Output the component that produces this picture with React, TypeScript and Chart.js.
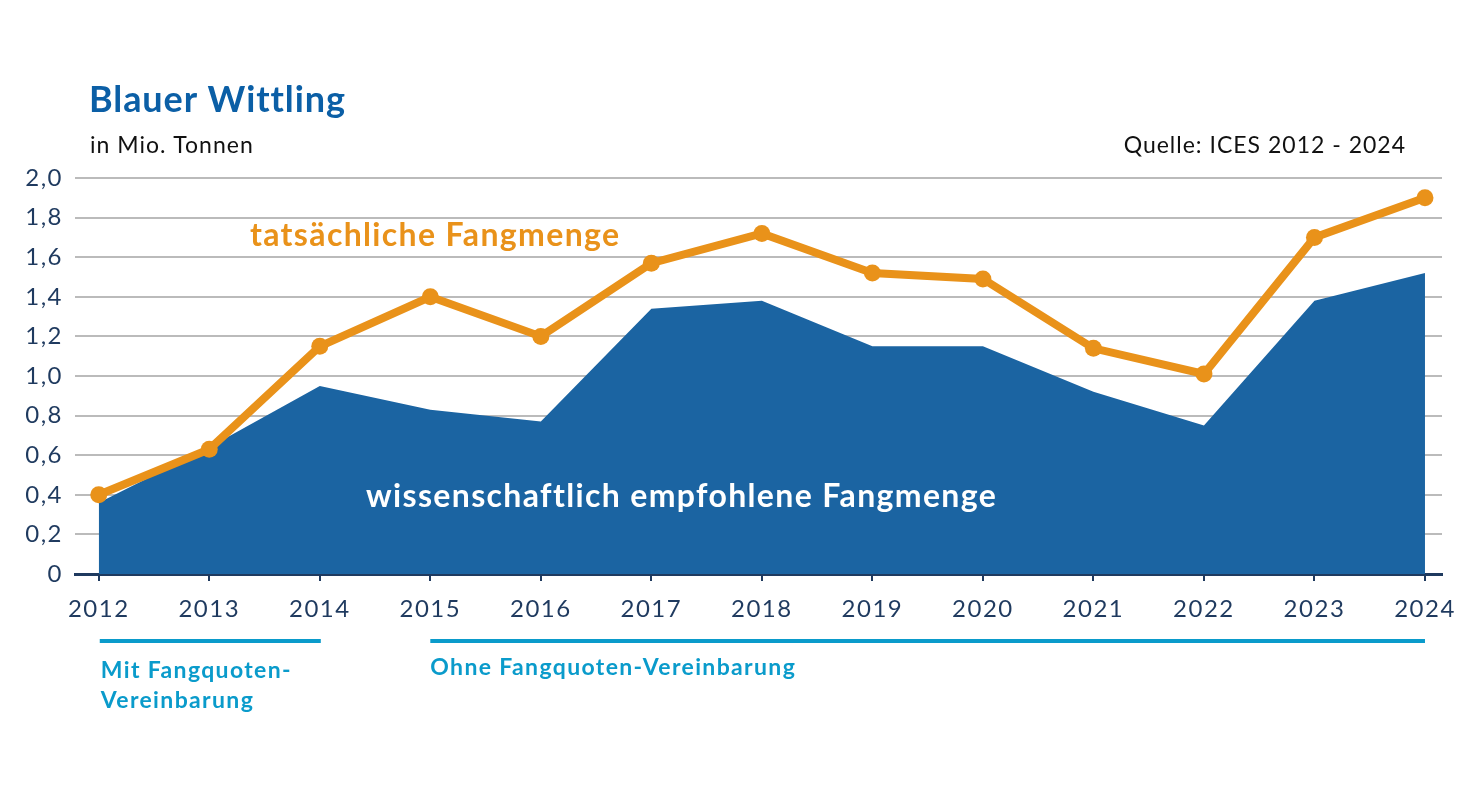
import React, { useEffect, useRef } from "react";
import { Chart, registerables } from "chart.js";

Chart.register(...registerables);

const years = [2012, 2013, 2014, 2015, 2016, 2017, 2018, 2019, 2020, 2021, 2022, 2023, 2024];
const actualCatch = [0.40, 0.63, 1.15, 1.40, 1.20, 1.57, 1.72, 1.52, 1.49, 1.14, 1.01, 1.70, 1.90];
const advisedCatch = [0.36, 0.64, 0.95, 0.83, 0.77, 1.34, 1.38, 1.15, 1.15, 0.92, 0.75, 1.38, 1.52];
const yTickValues = [0, 0.2, 0.4, 0.6, 0.8, 1.0, 1.2, 1.4, 1.6, 1.8, 2.0];
const periodWith = [2012, 2014];
const periodWithout = [2015, 2024];

const FONT = "Lato, 'Noto Sans', sans-serif";
const NAVY = "#1f3a5f";
const ORANGE = "#e9921a";
const AREA_BLUE = "#1b64a2";
const TITLE_BLUE = "#0b5fa6";
const LIGHT_BLUE = "#0a9bcb";

const textPlugin = {
  id: "texts",
  beforeDraw(chart: any) {
    chart.ctx.letterSpacing = "1.5px";
  },
  afterDraw(chart: any) {
    const ctx = chart.ctx;
    ctx.save();
    ctx.textBaseline = "alphabetic";
    ctx.textAlign = "left";
    ctx.fillStyle = TITLE_BLUE;
    ctx.letterSpacing = "0.9px";
    ctx.font = `bold 36px ${FONT}`;
    ctx.fillText("Blauer Wittling", 89, 112);
    ctx.fillStyle = "#111";
    ctx.letterSpacing = "1px";
    ctx.font = `23px ${FONT}`;
    ctx.fillText("in Mio. Tonnen", 90, 153);
    ctx.textAlign = "right";
    ctx.fillText("Quelle: ICES 2012 - 2024", 1406, 153);
    ctx.restore();
  },
  afterDatasetsDraw(chart: any) {
    const ctx = chart.ctx;
    const xs = chart.scales.x;
    ctx.save();
    ctx.textBaseline = "alphabetic";
    ctx.textAlign = "left";
    ctx.letterSpacing = "1.35px";
    ctx.font = `bold 32px ${FONT}`;
    ctx.fillStyle = ORANGE;
    ctx.fillText("tatsächliche Fangmenge", 250, 246);
    ctx.fillStyle = "#ffffff";
    ctx.fillText("wissenschaftlich empfohlene Fangmenge", 366, 507);

    ctx.strokeStyle = LIGHT_BLUE;
    ctx.lineWidth = 4;
    const y = 641;
    ctx.beginPath();
    ctx.moveTo(xs.getPixelForValue(periodWith[0]) + 1, y);
    ctx.lineTo(xs.getPixelForValue(periodWith[1]) + 1, y);
    ctx.moveTo(xs.getPixelForValue(periodWithout[0]), y);
    ctx.lineTo(xs.getPixelForValue(periodWithout[1]), y);
    ctx.stroke();
    ctx.fillStyle = LIGHT_BLUE;
    ctx.font = `bold 23px ${FONT}`;
    const x1 = xs.getPixelForValue(periodWith[0]) + 2;
    ctx.fillText("Mit Fangquoten-", x1, 678);
    ctx.fillText("Vereinbarung", x1, 708);
    ctx.fillText("Ohne Fangquoten-Vereinbarung", xs.getPixelForValue(periodWithout[0]), 675);
    ctx.restore();
  },
};

export default function App() {
  const ref = useRef<HTMLCanvasElement>(null);
  useEffect(() => {
    document.body.style.margin = "0";
    const canvas = ref.current!;
    const chart = new Chart(canvas, {
      type: "line",
      data: {
        datasets: [
          {
            label: "tatsächliche Fangmenge",
            data: years.map((yr, i) => ({ x: yr, y: actualCatch[i] })),
            borderColor: ORANGE,
            backgroundColor: ORANGE,
            borderWidth: 8,
            pointRadius: 8.5,
            pointBorderWidth: 0,
            pointBackgroundColor: ORANGE,
            fill: false,
            tension: 0,
            order: 0,
          },
          {
            label: "wissenschaftlich empfohlene Fangmenge",
            data: years.map((yr, i) => ({ x: yr, y: advisedCatch[i] })),
            borderWidth: 0,
            borderColor: AREA_BLUE,
            backgroundColor: AREA_BLUE,
            pointRadius: 0,
            fill: "origin",
            tension: 0,
            order: 1,
          },
        ],
      },
      options: {
        animation: false,
        responsive: false,
        layout: { padding: { top: 178, left: 0, right: 19, bottom: 147 } },
        plugins: { legend: { display: false }, tooltip: { enabled: false } },
        scales: {
          x: {
            type: "linear",
            min: 2011.785,
            max: 2024.154,
            afterBuildTicks: (s: any) => {
              s.ticks = years.map((v) => ({ value: v }));
            },
            afterFit: (s: any) => {
              s.height = 70;
              s.paddingLeft = 0;
              s.paddingRight = 0;
            },
            grid: {
              display: true,
              drawOnChartArea: false,
              drawTicks: true,
              tickLength: 7,
              color: NAVY,
              lineWidth: 2,
            },
            border: { display: true, color: NAVY, width: 3 },
            ticks: {
              padding: 14,
              color: NAVY,
              font: { family: FONT, size: 24 },
              maxRotation: 0,
              autoSkip: false,
              callback: (v: any) => String(v),
            },
          },
          y: {
            min: 0,
            max: 2,
            afterBuildTicks: (s: any) => {
              s.ticks = yTickValues.map((v) => ({ value: v }));
            },
            afterFit: (s: any) => {
              s.width = 75;
              s.paddingTop = 0;
              s.paddingBottom = 0;
            },
            grid: {
              drawTicks: false,
              color: (c: any) => (c.tick && c.tick.value === 0 ? "rgba(0,0,0,0)" : "#bbbbbb"),
              lineWidth: 2,
            },
            border: { display: false },
            ticks: {
              padding: 12,
              color: NAVY,
              font: { family: FONT, size: 24 },
              callback: (v: any) => {
                const n = Math.round(Number(v) * 10) / 10;
                return n === 0 ? "0" : n.toFixed(1).replace(".", ",");
              },
            },
          },
        },
      },
      plugins: [textPlugin],
    } as any);
    return () => chart.destroy();
  }, []);
  return (
    <div style={{ width: 1461, height: 791, position: "relative", background: "#fff" }}>
      <canvas ref={ref} width={1461} height={791} />
    </div>
  );
}
